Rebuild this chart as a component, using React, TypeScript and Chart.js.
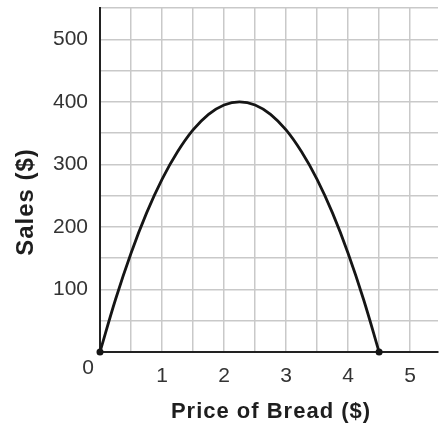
import { useEffect, useRef } from 'react';
import { Chart, registerables } from 'chart.js';

Chart.register(...registerables);

// Curve (price in $, sales in $)
const priceValues = [0, 0.25, 0.5, 0.75, 1, 1.25, 1.5, 1.75, 2, 2.25, 2.5, 2.75, 3, 3.25, 3.5, 3.75, 4, 4.25, 4.5];
const salesValues = [0, 84, 158, 222, 276, 320, 355, 380, 395, 400, 395, 380, 355, 320, 276, 222, 158, 84, 0];

const xGridValues = [0, 0.5, 1, 1.5, 2, 2.5, 3, 3.5, 4, 4.5, 5];
const xTickLabels = [1, 2, 3, 4, 5];
const yTickLabels = [100, 200, 300, 400, 500];

const xTitle = 'Price of Bread ($)';
const yTitle = 'Sales ($)';
const originLabel = '0';

const FONT = '"Liberation Sans", Arial, Helvetica, sans-serif';

const titlePlugin = {
  id: 'titlesPlugin',
  afterDraw(chart: any) {
    const ctx = chart.ctx;
    const area = chart.chartArea;
    ctx.save();
    ctx.fillStyle = '#1e1e1e';
    ctx.font = `bold 22px ${FONT}`;
    ctx.textAlign = 'center';
    ctx.textBaseline = 'alphabetic';
    try { (ctx as any).letterSpacing = '1px'; } catch (e) {}
    ctx.fillText(xTitle, (area.left + area.right) / 2 + 2, 418);
    ctx.save();
    ctx.translate(33, 202);
    ctx.rotate(-Math.PI / 2);
    ctx.font = `bold 24px ${FONT}`;
    ctx.fillText(yTitle, 0, 0);
    ctx.restore();
    try { (ctx as any).letterSpacing = '0px'; } catch (e) {}
    ctx.fillStyle = '#333333';
    ctx.font = `21px ${FONT}`;
    ctx.textAlign = 'center';
    ctx.fillText(originLabel, area.left - 12, 374);
    ctx.restore();
  },
};

export default function App() {
  const canvasRef = useRef<HTMLCanvasElement | null>(null);

  useEffect(() => {
    if (!canvasRef.current) return;
    const points = priceValues.map((x, i) => ({ x, y: salesValues[i] }));
    const last = points.length - 1;
    const chart = new Chart(canvasRef.current, {
      type: 'line',
      data: {
        datasets: [
          {
            data: points,
            borderColor: '#151515',
            borderWidth: 2.8,
            tension: 0.4,
            pointRadius: (c: any) => (c.dataIndex === 0 || c.dataIndex === last ? 3.5 : 0),
            pointBackgroundColor: '#151515',
            pointBorderWidth: 0,
            clip: 10,
            fill: false,
          } as any,
        ],
      },
      options: {
        animation: false,
        responsive: true,
        maintainAspectRatio: false,
        layout: { padding: { top: 8, left: 0, right: 0, bottom: 0 } },
        plugins: {
          legend: { display: false },
          tooltip: { enabled: false },
          title: { display: false },
        },
        scales: {
          x: {
            type: 'linear',
            min: 0,
            max: 5.45,
            afterBuildTicks: (s: any) => {
              s.ticks = xGridValues.map((v) => ({ value: v }));
            },
            afterFit: (s: any) => {
              s.height = 75;
              s.paddingLeft = 0;
              s.paddingRight = 0;
            },
            grid: { color: '#c9c9c9', lineWidth: 1.5, drawTicks: false },
            border: { color: '#222222', width: 2 },
            ticks: {
              autoSkip: false,
              maxRotation: 0,
              padding: 12,
              color: '#333333',
              font: { size: 21, family: FONT },
              callback: (v: any) => (xTickLabels.includes(Number(v)) ? String(v) : ''),
            },
          },
          y: {
            type: 'linear',
            min: 0,
            max: 550,
            afterFit: (s: any) => {
              s.width = 100;
              s.paddingTop = 0;
              s.paddingBottom = 0;
            },
            grid: { color: '#c9c9c9', lineWidth: 1.5, drawTicks: false },
            border: { color: '#222222', width: 2 },
            ticks: {
              stepSize: 50,
              autoSkip: false,
              padding: 12,
              color: '#333333',
              font: { size: 21, family: FONT },
              callback: (v: any) => (yTickLabels.includes(Number(v)) ? String(v) : ''),
            },
          },
        },
      },
      plugins: [titlePlugin],
    });
    return () => chart.destroy();
  }, []);

  return (
    <div style={{ position: 'absolute', left: 0, top: 0, width: 442, height: 427, background: '#ffffff' }}>
      <canvas ref={canvasRef} />
    </div>
  );
}
